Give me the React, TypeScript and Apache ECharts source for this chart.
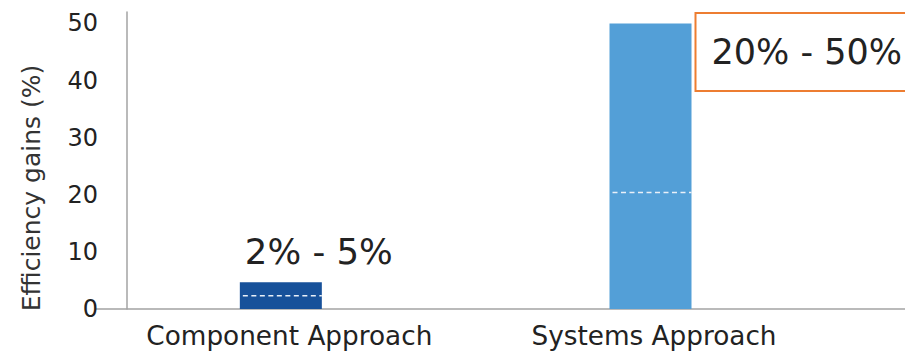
import React, { useEffect, useRef } from 'react';
import * as echarts from 'echarts';

const categories = ['Component Approach', 'Systems Approach'];
const barValues = [4.7, 50];
const midValues = [2.3, 20.4];
const rangeLabels = ['2% - 5%', '20% - 50%'];
const barColors = ['#17519a', '#539fd7'];
const yTicks = [0, 10, 20, 30, 40, 50];
const yAxisName = 'Efficiency gains (%)';

const FONT = "'DejaVu Sans', sans-serif";
const TEXT = '#222222';
const AXIS = '#a3a3a3';
const BAR_W = 82;
const CAT_LABEL_PAD = [17, 7];

export default function App() {
  const ref = useRef<HTMLDivElement>(null);

  useEffect(() => {
    if (!ref.current) return;
    const chart = echarts.init(ref.current, undefined, { renderer: 'svg' });

    const labelStyles: any[] = [
      {
        show: true,
        position: [5, -30.5],
        align: 'left',
        verticalAlign: 'middle',
        fontSize: 35.5,
        lineHeight: 38,
        fontFamily: FONT,
        color: TEXT,
      },
      {
        show: true,
        position: [87, 28.5],
        align: 'left',
        verticalAlign: 'middle',
        fontSize: 35,
        lineHeight: 38,
        fontFamily: FONT,
        color: TEXT,
        backgroundColor: '#ffffff',
        borderColor: '#ed7d31',
        borderWidth: 2,
        padding: [21, 30, 17, 15],
      },
    ];

    const option: any = {
      animation: false,
      backgroundColor: '#ffffff',
      grid: { left: 96, width: 1109, top: 12, bottom: 42, outerBoundsMode: 'none' },
      xAxis: {
        type: 'category',
        data: [
          ...categories.map((c, i) => ({
            value: c,
            textStyle: { padding: [0, 0, 0, CAT_LABEL_PAD[i]] },
          })),
          '',
        ],
        axisLine: { show: true, lineStyle: { color: AXIS, width: 1.5 } },
        axisTick: { show: false },
        axisLabel: {
          fontSize: 26.3,
          lineHeight: 26,
          fontFamily: FONT,
          color: TEXT,
          margin: 14,
          interval: 0,
        },
        splitLine: { show: false },
      },
      yAxis: {
        type: 'value',
        min: yTicks[0],
        max: 52,
        interval: yTicks[1] - yTicks[0],
        offset: -31,
        axisLine: { show: true, lineStyle: { color: AXIS, width: 1.5 } },
        axisTick: { show: false },
        splitLine: { show: false },
        axisLabel: {
          fontSize: 24,
          fontFamily: FONT,
          color: TEXT,
          margin: 29,
          showMaxLabel: false,
          formatter: (v: number) => (yTicks.includes(v) ? String(v) : ''),
        },
      },
      graphic: [
        {
          type: 'text',
          x: 31,
          y: 188,
          rotation: Math.PI / 2,
          silent: true,
          style: {
            text: yAxisName,
            fontSize: 25,
            fontFamily: FONT,
            fill: '#333333',
            align: 'center',
            verticalAlign: 'middle',
          },
        },
      ],
      series: [
        {
          type: 'bar',
          barWidth: BAR_W,
          data: barValues.map((v, i) => ({
            value: v,
            itemStyle: { color: barColors[i] },
            label: { ...labelStyles[i], formatter: rangeLabels[i] },
          })),
        },
        {
          type: 'custom',
          silent: true,
          z: 5,
          data: midValues.map((v, i) => [i, v]),
          renderItem: (params: any, api: any) => {
            const c = api.coord([api.value(0), api.value(1)]);
            return {
              type: 'line',
              shape: { x1: c[0] - BAR_W / 2 + 3, y1: c[1], x2: c[0] + BAR_W / 2, y2: c[1] },
              style: { stroke: '#e9f0f8', lineWidth: 1.5, lineDash: [5, 3.5] },
            };
          },
        },
      ],
    };

    chart.setOption(option);
    return () => chart.dispose();
  }, []);

  return (
    <div
      ref={ref}
      style={{ position: 'fixed', left: 0, top: 0, width: 905, height: 351, background: '#fff' }}
    />
  );
}
